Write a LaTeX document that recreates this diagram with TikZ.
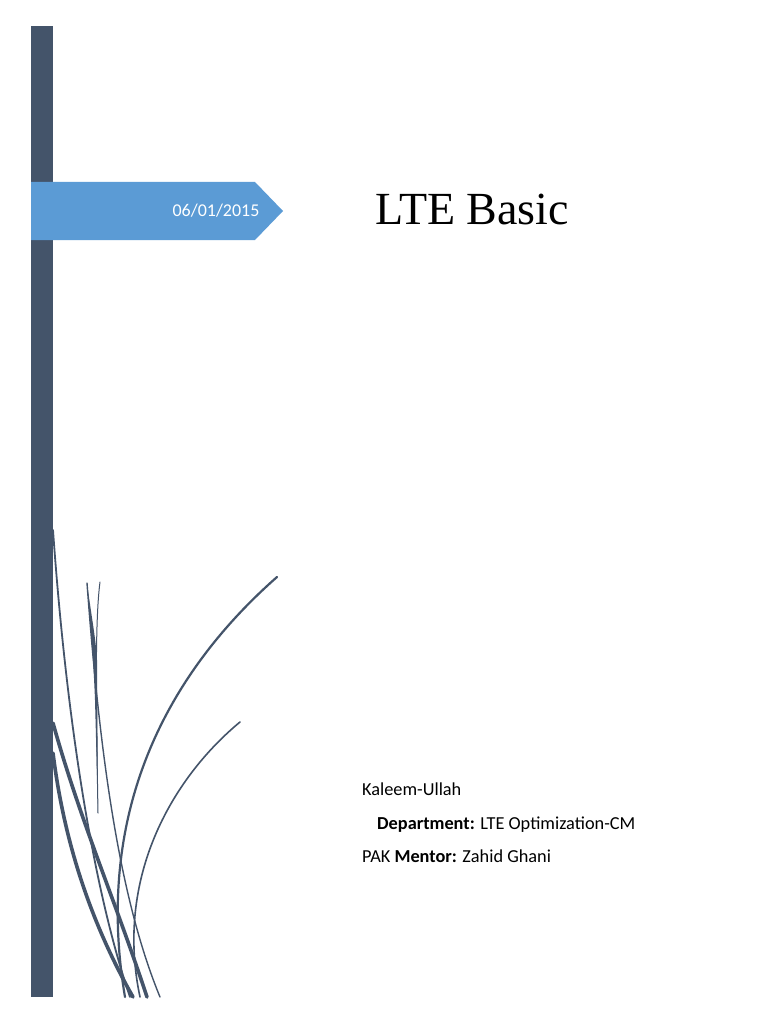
\documentclass[tikz,border=0pt]{standalone}
\usepackage{fontspec}
\setmainfont{Carlito}
\newfontfamily\titlefont{Liberation Serif}
\definecolor{barc}{HTML}{44546A}
\definecolor{bluec}{HTML}{5B9BD5}
\begin{document}
\begin{tikzpicture}[x=1pt,y=-1pt,
  blade/.style={draw=barc,line cap=round},
  txt/.style={anchor=base west,inner sep=0pt,font=\fontsize{18.3}{22}\selectfont}]
\useasboundingbox[fill=white] (0,0) rectangle (768,1024);
\fill[barc] (31,26) rectangle (53,997);
\fill[bluec] (31,182) -- (255,182) -- (283,211) -- (255,240) -- (31,240) -- cycle;
\node[text=white,font=\fontsize{18}{20}\selectfont] (date) at (216,211) {06/01/2015};
\node[anchor=west,inner sep=0pt,font=\titlefont\fontsize{46}{50}\selectfont] (title) at (375,209) {LTE Basic};
% grass
\draw[blade,line width=1.8pt] (53,530) .. controls (65,700) and (90,880) .. (130,997);
\draw[blade,line width=3.6pt] (53,723) .. controls (80,820) and (115,900) .. (147,997);
\draw[blade,line width=3.6pt] (53,753) .. controls (65,850) and (95,930) .. (133,997);
\draw[blade,line width=2.2pt] (277,577) .. controls (160,680) and (95,820) .. (125,997);
\draw[blade,line width=1.6pt] (240,722) .. controls (170,780) and (115,880) .. (140,997);
\draw[blade,line width=1.4pt] (87,583) .. controls (100,760) and (120,900) .. (160,997);
\fill[barc] (87,583) .. controls (92,620) and (96,640) .. (97,660) -- (98,813) -- (95,700) .. controls (93,650) and (90,620) .. (87,583) -- cycle;
\draw[blade,line width=1pt] (100,582) .. controls (95,620) and (96,700) .. (98,813);
\node[txt] (name) at (362,795) {Kaleem-Ullah};
\node[txt] (dept) at (377,829) {\textbf{Department:} LTE Optimization-CM};
\node[txt] (ment) at (362,862) {PAK \textbf{Mentor:} Zahid Ghani};
\end{tikzpicture}
\end{document}
